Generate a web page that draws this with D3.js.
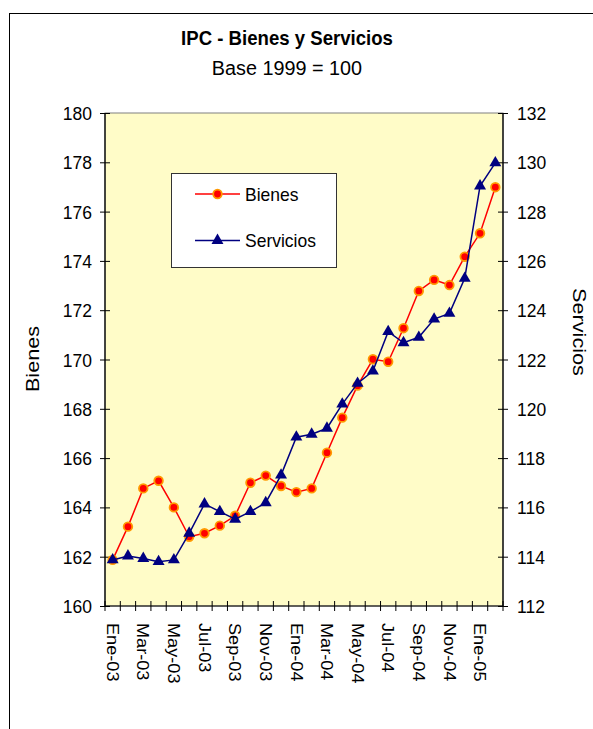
<!DOCTYPE html>
<html>
<head>
<meta charset="utf-8">
<script src="https://cdn.jsdelivr.net/npm/d3@7"></script>
<style>
  html, body { margin: 0; padding: 0; background: #fff; }
  svg { display: block; font-family: "Liberation Sans", Arial, sans-serif; }
</style>
</head>
<body>
<svg id="chart" width="593" height="729"></svg>
<script>
const months = ["Ene-03","Feb-03","Mar-03","Abr-03","May-03","Jun-03","Jul-03","Ago-03","Sep-03","Oct-03","Nov-03","Dic-03",
                "Ene-04","Feb-04","Mar-04","Abr-04","May-04","Jun-04","Jul-04","Ago-04","Sep-04","Oct-04","Nov-04","Dic-04",
                "Ene-05","Feb-05"];
const bienes = [161.87,163.22,164.77,165.08,164.0,162.81,162.95,163.26,163.66,165.0,165.29,164.87,
                164.62,164.77,166.22,167.64,168.94,170.01,169.91,171.27,172.78,173.23,173.02,174.17,
                175.12,176.99];
const servicios = [113.87,114.03,113.93,113.8,113.87,114.95,116.14,115.83,115.52,115.83,116.19,117.31,
                   118.85,118.97,119.21,120.19,121.03,121.53,123.13,122.68,122.9,123.64,123.87,125.29,
                   129.04,129.98];
const leftTicks = [160,162,164,166,168,170,172,174,176,178,180];
const rightTicks = [112,114,116,118,120,122,124,126,128,130,132];
const seriesNames = ["Bienes","Servicios"];

const svg = d3.select("#chart");
const plot = {l: 105, r: 503, t: 113, b: 606};
const SY = 1.1; // vertical stretch of glyphs seen in the reference

// outer border
svg.append("rect").attr("x", 9.5).attr("y", 13.5).attr("width", 700).attr("height", 800)
  .attr("fill", "none").attr("stroke", "#000").attr("stroke-width", 1);

// title
svg.append("text").attr("transform", `translate(287,45) scale(1,${SY})`).attr("text-anchor", "middle")
  .attr("font-size", 18.6).attr("font-weight", "bold").text("IPC - Bienes y Servicios");
svg.append("text").attr("transform", `translate(287,75) scale(1,1.05)`).attr("text-anchor", "middle")
  .attr("font-size", 19.8).text("Base 1999 = 100");

const x = d3.scaleBand().domain(months).range([plot.l, plot.r]);
const yL = d3.scaleLinear().domain([160,180]).range([plot.b, plot.t]);
const yR = d3.scaleLinear().domain([112,132]).range([plot.b, plot.t]);

// plot background
svg.append("rect").attr("x", plot.l).attr("y", plot.t).attr("width", plot.r - plot.l).attr("height", plot.b - plot.t)
  .attr("fill", "#FFFCC8").attr("stroke", "#808080").attr("stroke-width", 1);

// left axis
const gL = svg.append("g").attr("transform", `translate(${plot.l},0)`)
  .call(d3.axisLeft(yL).tickValues(leftTicks).tickSize(5).tickPadding(0).tickFormat(d3.format("d")));
gL.selectAll(".tick line").attr("x2", 5).attr("x1", -5);
gL.selectAll(".tick text").attr("x", null).attr("dy", null)
  .attr("transform", `translate(-13,6.5) scale(1,${SY})`);
// right axis
const gR = svg.append("g").attr("transform", `translate(${plot.r},0)`)
  .call(d3.axisRight(yR).tickValues(rightTicks).tickSize(5).tickPadding(0).tickFormat(d3.format("d")));
gR.selectAll(".tick line").attr("x1", -5).attr("x2", 5);
gR.selectAll(".tick text").attr("x", null).attr("dy", null)
  .attr("transform", `translate(14,6.5) scale(1,${SY})`);
// bottom axis with ticks at category boundaries
const gB = svg.append("g").attr("transform", `translate(0,${plot.b})`);
gB.append("line").attr("x1", plot.l).attr("x2", plot.r).attr("stroke", "#000");
const bounds = months.map(m => x(m)).concat([plot.r]);
gB.selectAll("line.tk").data(bounds).join("line").attr("class","tk")
  .attr("x1", d => d).attr("x2", d => d).attr("y1", -5).attr("y2", 5).attr("stroke", "#000");
gB.selectAll("text").data(months.filter((m,i) => i % 2 === 0)).join("text")
  .attr("transform", m => `translate(${x(m) + x.bandwidth()/2},${17}) rotate(90) scale(${SY},1)`)
  .attr("dy", "0.35em").attr("font-size", 16.5).attr("fill", "#000").text(m => m);

[gL, gR].forEach(g => {
  g.select(".domain").attr("stroke", "#000").attr("stroke-width", 1.3);
  g.selectAll(".tick line").attr("stroke", "#000");
  g.selectAll(".tick text").attr("font-size", 17.5).attr("fill", "#000").attr("font-family", "Liberation Sans, Arial, sans-serif");
});
gL.select(".domain").attr("d", `M0,${plot.t}V${plot.b}`);
gR.select(".domain").attr("d", `M0,${plot.t}V${plot.b}`);

// axis titles
svg.append("text").attr("transform", `translate(39,359) rotate(-90) scale(1.14,1)`).attr("text-anchor", "middle")
  .attr("font-size", 19).text("Bienes");
svg.append("text").attr("transform", `translate(573,332) rotate(90) scale(1.14,1)`).attr("text-anchor", "middle")
  .attr("font-size", 19).text("Servicios");

const cx = m => x(m) + x.bandwidth()/2;
const tri = d3.symbol().type(d3.symbolTriangle).size(62);

// Bienes
svg.append("path").datum(bienes).attr("fill", "none").attr("stroke", "#FF0000").attr("stroke-width", 1.5)
  .attr("d", d3.line().x((d,i) => cx(months[i])).y(d => yL(d)));
svg.selectAll("circle.b").data(bienes).join("circle").attr("class","b")
  .attr("cx", (d,i) => cx(months[i])).attr("cy", d => yL(d)).attr("r", 4.3)
  .attr("fill", "#FF0000").attr("stroke", "#FF9900").attr("stroke-width", 1.8);

// Servicios
svg.append("path").datum(servicios).attr("fill", "none").attr("stroke", "#000080").attr("stroke-width", 1.5)
  .attr("d", d3.line().x((d,i) => cx(months[i])).y(d => yR(d)));
svg.selectAll("path.s").data(servicios).join("path").attr("class","s")
  .attr("transform", (d,i) => `translate(${cx(months[i])},${yR(d)})`)
  .attr("d", tri).attr("fill", "#000080");

// legend
const lg = svg.append("g");
lg.append("rect").attr("x", 171.5).attr("y", 173.5).attr("width", 165).attr("height", 94)
  .attr("fill", "#fff").attr("stroke", "#333").attr("stroke-width", 1);
const rows = [{y: 194, name: seriesNames[0]}, {y: 240.5, name: seriesNames[1]}];
rows.forEach((r, i) => {
  lg.append("line").attr("x1", 195).attr("x2", 240).attr("y1", r.y).attr("y2", r.y)
    .attr("stroke", i === 0 ? "#FF0000" : "#000080").attr("stroke-width", 1.5);
  if (i === 0) {
    lg.append("circle").attr("cx", 217.5).attr("cy", r.y).attr("r", 4.3)
      .attr("fill", "#FF0000").attr("stroke", "#FF9900").attr("stroke-width", 1.8);
  } else {
    lg.append("path").attr("transform", `translate(217.5,${r.y})`).attr("d", tri).attr("fill", "#000080");
  }
  lg.append("text").attr("transform", `translate(245,${r.y + 6.5}) scale(1,${SY})`)
    .attr("font-size", 17.5).text(r.name);
});
</script>
</body>
</html>
